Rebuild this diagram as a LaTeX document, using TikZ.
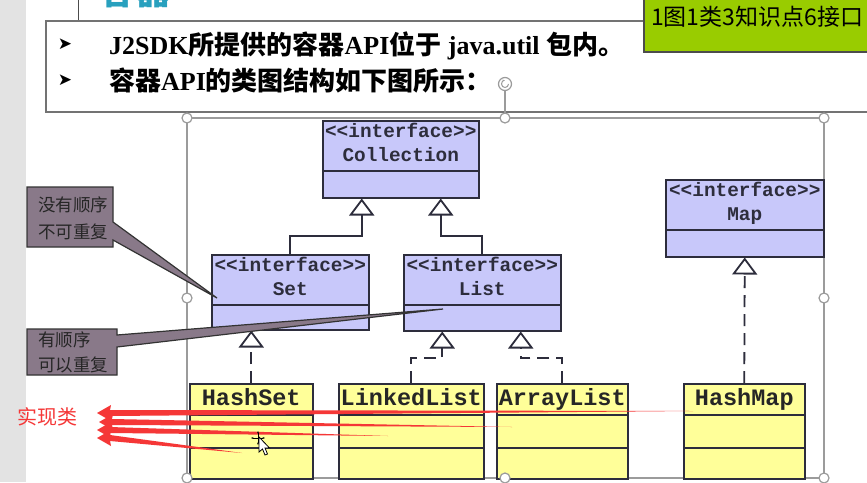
\documentclass[tikz,border=0pt]{standalone}
\usepackage{fontspec}
\setmainfont{Liberation Serif}
\newfontfamily\cjk{Noto Sans CJK SC}
\newfontfamily\umlfont{Liberation Mono}
\newfontfamily\symfont{DejaVu Sans}
\usetikzlibrary{arrows.meta, positioning, calc}

\definecolor{ifacefill}{RGB}{200,200,250}
\definecolor{implfill}{RGB}{255,255,153}
\definecolor{notefill}{RGB}{137,121,137}
\definecolor{limegreen}{RGB}{153,204,0}
\definecolor{inkred}{RGB}{245,55,55}
\definecolor{stripgray}{RGB}{227,227,227}
\definecolor{framegray}{RGB}{155,155,155}
\definecolor{umlink}{RGB}{45,45,60}
\definecolor{titleteal}{RGB}{40,160,190}

\newcommand\zh[1]{{\cjk #1}}
% tapered red stroke: tip, tail
\newcommand\redstroke[2]{\fill[brush] (#1) -- ++(14,-8) -- ++(-1,5) -- (#2) -- ($(#1)+(13,3)$) -- ++(1,5) -- cycle;}

\begin{document}
\begin{tikzpicture}[x=1pt, y=-1pt,
    iface/.style={draw=umlink, fill=ifacefill, line width=1.5pt, anchor=north west, inner sep=0pt,
        path picture={\draw[umlink, line width=1.5pt] ([yshift=-50pt]path picture bounding box.north west) -- ([yshift=-50pt]path picture bounding box.north east);}},
    impl/.style={draw=umlink, fill=implfill, line width=1.5pt, anchor=north west, inner sep=0pt, minimum height=95pt,
        path picture={\draw[umlink, line width=1.5pt] ([yshift=-31pt]path picture bounding box.north west) -- ([yshift=-31pt]path picture bounding box.north east)
            ([yshift=-64pt]path picture bounding box.north west) -- ([yshift=-64pt]path picture bounding box.north east);}},
    ifacetxt/.style={font=\umlfont\bfseries\fontsize{19.4}{24}\selectfont, text=umlink, align=center, inner sep=0pt, anchor=base},
    impltxt/.style={font=\umlfont\bfseries\fontsize{23.5}{26}\selectfont, text=black!85, inner sep=0pt, anchor=base},
    gen/.style={line width=1.8pt, draw=umlink, -{Triangle[open, length=17pt, width=25pt]}},
    real/.style={gen, dash pattern=on 12pt off 7pt},
    note/.style={fill=notefill, draw=black!80, line width=1.2pt},
    notetxt/.style={font=\cjk\fontsize{17.5}{27}\selectfont, align=left, text=black!85, inner sep=0pt, anchor=base west},
    headtxt/.style={font=\bfseries\fontsize{26}{30}\selectfont, inner sep=0pt, anchor=base west},
    bullet/.style={font=\symfont\fontsize{17}{18}\selectfont, inner sep=0pt},
    handle/.style={draw=framegray, fill=white, line width=1.2pt},
    brush/.style={fill=inkred}]
    \useasboundingbox (0,0) rectangle (867,482);
    \fill[white] (0,0) rectangle (867,482);
    \fill[stripgray] (0,0) rectangle (26,482);

    % slide title, cut off at the top
    \begin{scope}
        \clip (0,0) rectangle (867,482);
        \node[font=\cjk\bfseries\fontsize{36}{40}\selectfont, text=titleteal, inner sep=0pt, anchor=south] (title) at (135,8) {容器};
    \end{scope}
    \draw[black!70, line width=1pt] (78,0) -- (78,21);

    % text box
    \draw[black!55, line width=1.3pt, fill=white] (46,21) rectangle (880,112);
    \node[bullet] (b1) at (65,44) {➤};
    \node[bullet] (b2) at (65,80) {➤};
    \node[headtxt] (line1) at (109,54) {J2SDK\zh{所提供的容器}API\zh{位于} java.util \zh{包内。}};
    \node[headtxt] (line2) at (109,90) {\zh{容器}API\zh{的类图结构如下图所示：}};

    % green tag
    \draw[fill=limegreen, draw=black!70, line width=1.2pt] (644,-2) rectangle (872,52);
    \node[font=\cjk\fontsize{23}{26}\selectfont, inner sep=0pt, anchor=west] (tally) at (651,17) {1图1类3知识点6接口};

    % rotation handle
    \draw[framegray, line width=1.2pt] (505,90) -- (505,118);
    \draw[handle] (505,84) circle (6.5);
    \draw[framegray, line width=1pt, -{Stealth[length=2.5pt]}] (508.5,84) arc[start angle=0, end angle=270, radius=3.5];

    % picture frame
    \draw[framegray, line width=1.2pt] (187,118) rectangle (824,478);

    % interfaces
    \node[iface, minimum width=156pt, minimum height=77pt] (coll) at (322,120) {};
    \node[iface, minimum width=157pt, minimum height=75pt] (set) at (211,254) {};
    \node[iface, minimum width=157pt, minimum height=76pt] (list) at (403,254) {};
    \node[iface, minimum width=158pt, minimum height=77pt] (map) at (665,179) {};
    \node[ifacetxt] (coll-t) at ([yshift=-41pt]coll.north) {<<interface>>\\Collection};
    \node[ifacetxt] (set-t) at ([yshift=-41pt]set.north) {<<interface>>\\Set};
    \node[ifacetxt] (list-t) at ([yshift=-41pt]list.north) {<<interface>>\\List};
    \node[ifacetxt] (map-t) at ([yshift=-41pt]map.north) {<<interface>>\\Map};

    % classes
    \node[impl, minimum width=123pt] (hset) at (189,383) {};
    \node[impl, minimum width=145pt] (llist) at (338,383) {};
    \node[impl, minimum width=131pt] (alist) at (496,383) {};
    \node[impl, minimum width=121pt] (hmap) at (683,383) {};
    \node[impltxt] (hset-t) at ([yshift=-22pt]hset.north) {HashSet};
    \node[impltxt] (llist-t) at ([yshift=-22pt]llist.north) {LinkedList};
    \node[impltxt] (alist-t) at ([yshift=-22pt]alist.north) {ArrayList};
    \node[impltxt] (hmap-t) at ([yshift=-22pt]hmap.north) {HashMap};

    % inheritance
    \coordinate (jcoll) at (0,236);
    \coordinate (jlist) at (0,358);
    \draw[gen] (set.north) -- (set.north |- jcoll) -| ([xshift=-39pt]coll.south);
    \draw[gen] (list.north) -- (list.north |- jcoll) -| ([xshift=40pt]coll.south);
    \draw[real] (hset.north) -- (hset.north |- set.south);
    \draw[real] (llist.north) -- (llist.north |- jlist) -| ([xshift=-40pt]list.south);
    \draw[real] (alist.north) -- (alist.north |- jlist) -| ([xshift=38.5pt]list.south);
    \draw[real] (hmap.north) -- (map.south);

    % callouts
    \draw[note] (27,187) -- (113,187) -- (113,222) -- (217,298) -- (113,240) -- (113,247) -- (27,247) -- cycle;
    \node[notetxt] (note1) at (38,238.5) {没有顺序\\不可重复};
    \draw[note] (27,329) -- (117,329) -- (117,335) -- (443,309) -- (117,347) -- (117,375) -- (27,375) -- cycle;
    \node[notetxt, font=\cjk\fontsize{17.5}{25}\selectfont] (note2) at (38,371.5) {有顺序\\可以重复};

    % red strokes
    \node[font=\cjk\fontsize{20}{22}\selectfont, text=inkred, inner sep=0pt] (implbl) at (47,417) {实现类};
    \coordinate (tip1) at (97,413);
    \coordinate (tip2) at (99,422);
    \coordinate (tip3) at (97,430);
    \coordinate (tip4) at (97,438);
    \coordinate (end1) at (693,411);
    \coordinate (end2) at (512,427);
    \coordinate (end3) at (388,436);
    \coordinate (end4) at (242,453);
    \redstroke{tip1}{end1}
    \redstroke{tip2}{end2}
    \redstroke{tip3}{end3}
    \redstroke{tip4}{end4}

    % selection handles
    \draw[handle] (187,118) circle (5) (505,118) circle (5) (824,118) circle (5)
        (187,298) circle (5) (824,298) circle (5)
        (187,478) circle (5) (505,478) circle (5) (824,478) circle (5);

    % mouse cursor
    \draw[black, line width=1pt, {Stealth[length=2.5pt]}-{Stealth[length=2.5pt]}] (251,438) -- (265,438);
    \draw[black, line width=1pt, {Stealth[length=2.5pt]}-{Stealth[length=2.5pt]}] (258,431) -- (258,445);
    \draw[fill=white, draw=black, line width=0.8pt] (259,437) -- (259,452) -- (262.5,449) -- (265,455) -- (267.5,454) -- (265,448) -- (269.5,448) -- cycle;
\end{tikzpicture}
\end{document}
